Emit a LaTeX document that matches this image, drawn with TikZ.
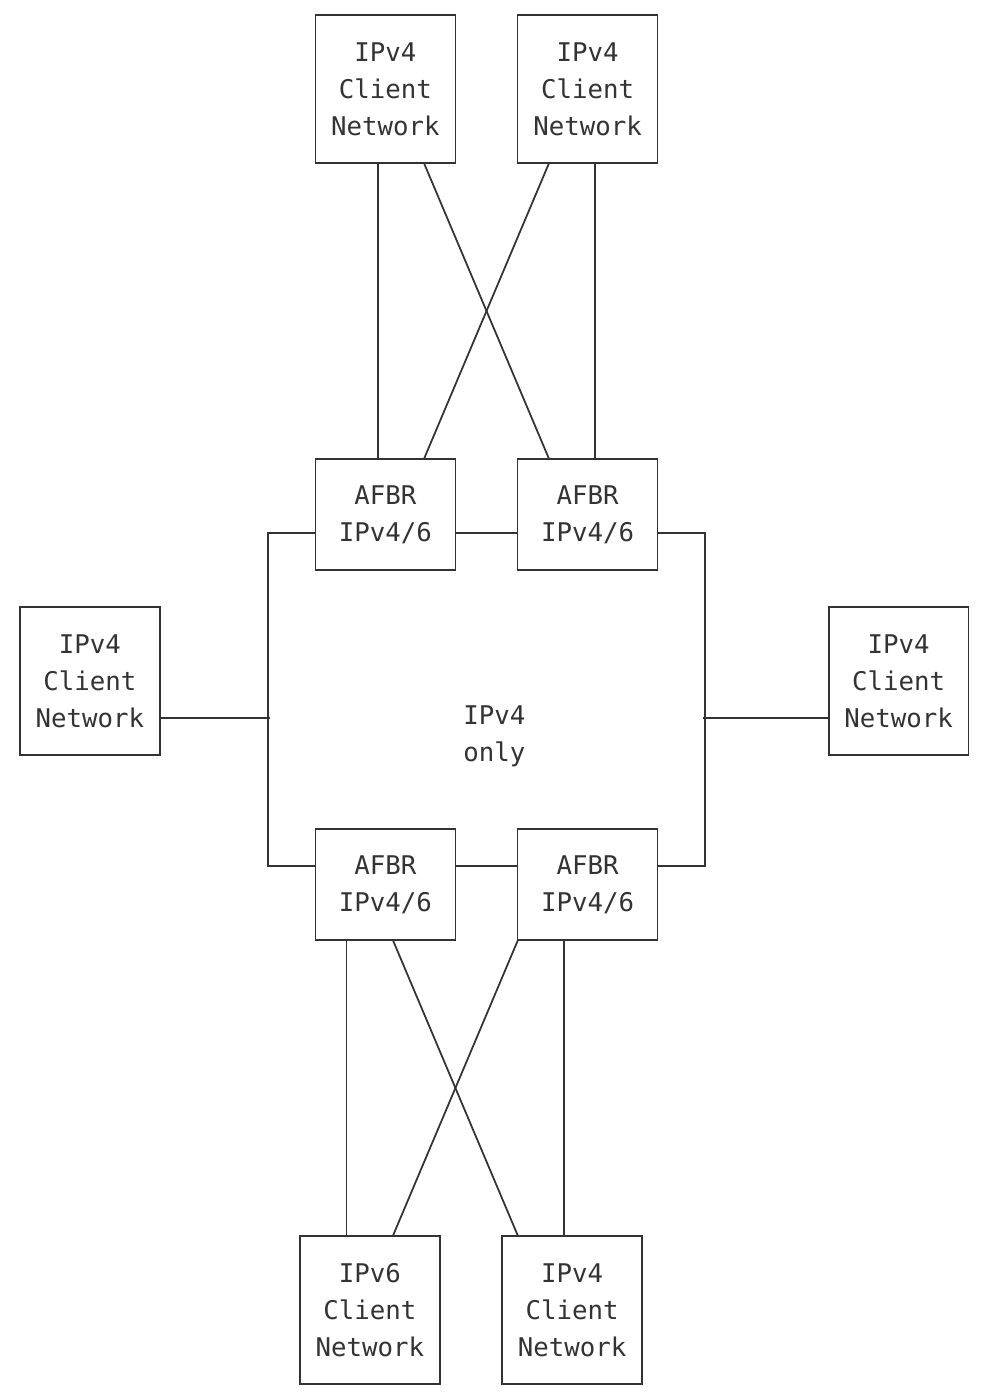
\documentclass[tikz,border=0pt]{standalone}
\usepackage{fontspec}
\setmonofont{DejaVu Sans Mono}
\usetikzlibrary{calc}
\definecolor{ink}{HTML}{333333}
\tikzset{
  client/.style={draw, rectangle, inner sep=0pt, minimum width=2.799cm, minimum height=2.96cm},
  afbr/.style={draw, rectangle, inner sep=0pt, minimum width=2.799cm, minimum height=2.22cm},
}
\begin{document}
\begin{tikzpicture}[x=0.311cm, y=-0.74cm, ink, line width=1pt,
    every node/.style={font=\ttfamily\fontsize{14.65}{21}\selectfont, text=ink, align=center}]
    \useasboundingbox (-1.286,-0.405) rectangle (61.80,37.216);

    % Client networks on top
    \node[client] (cTL) at (23.5,2) {IPv4\\Client\\Network};
    \node[client] (cTR) at (36.5,2) {IPv4\\Client\\Network};

    % Border routers
    \node[afbr] (aTL) at (23.5,13.5) {AFBR\\IPv4/6};
    \node[afbr] (aTR) at (36.5,13.5) {AFBR\\IPv4/6};
    \node[afbr] (aBL) at (23.5,23.5) {AFBR\\IPv4/6};
    \node[afbr] (aBR) at (36.5,23.5) {AFBR\\IPv4/6};

    % Client networks on the sides and below
    \node[client] (cL) at (4.5,18) {IPv4\\Client\\Network};
    \node[client] (cR) at (56.5,18) {IPv4\\Client\\Network};
    \node[client] (cBL) at (22.5,35) {IPv6\\Client\\Network};
    \node[client] (cBR) at (35.5,35) {IPv4\\Client\\Network};

    % The IPv4 only core
    \node (core) at (30.5,19.5) {IPv4\\only};

    % Upper links, straight and crossed
    \draw ($(cTL.south)+(-0.5,0)$) -- ($(aTL.north)+(-0.5,0)$);
    \draw ($(cTR.south)+(0.5,0)$) -- ($(aTR.north)+(0.5,0)$);
    \draw ($(cTL.south)+(2.5,0)$) -- ($(aTR.north)+(-2.5,0)$);
    \draw ($(cTR.south)+(-2.5,0)$) -- ($(aTL.north)+(2.5,0)$);

    % Ring round the core
    \draw ($(aTL.west)+(0,0.5)$) -- ++(-3,0) |- ($(aBL.west)+(0,-0.5)$);
    \draw ($(aTR.east)+(0,0.5)$) -- ++(3,0) |- ($(aBR.east)+(0,-0.5)$);
    \draw ($(aTL.east)+(0,0.5)$) -- ($(aTR.west)+(0,0.5)$);
    \draw ($(aBL.east)+(0,-0.5)$) -- ($(aBR.west)+(0,-0.5)$);

    % Side links
    \draw ($(cL.east)+(0,1)$) -- ++(7,0);
    \draw ($(cR.west)+(0,1)$) -- ++(-8,0);

    % Lower links, straight and crossed
    \draw ($(aBL.south)+(-2.5,0)$) -- ($(cBL.north)+(-1.5,0)$);
    \draw ($(aBR.south)+(-1.5,0)$) -- ($(cBR.north)+(-0.5,0)$);
    \draw ($(aBL.south)+(0.5,0)$) -- ($(cBR.north)+(-3.5,0)$);
    \draw ($(aBR.south)+(-4.5,0)$) -- ($(cBL.north)+(1.5,0)$);
\end{tikzpicture}
\end{document}
